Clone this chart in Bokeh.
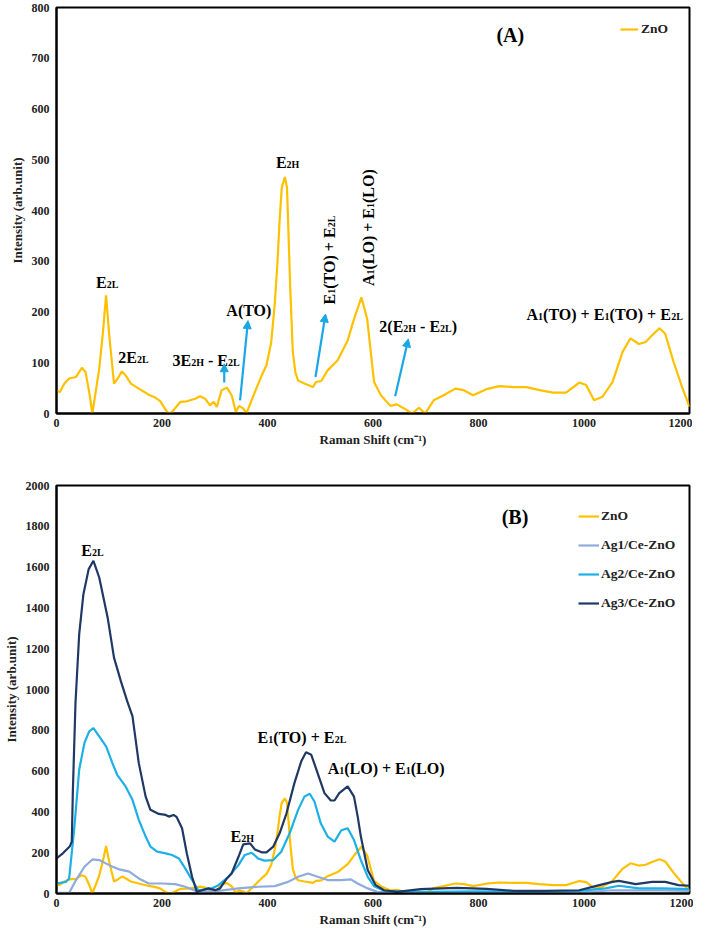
import numpy as np
from bokeh.plotting import figure
from bokeh.models import Range1d, FixedTicker, Legend, LegendItem, Arrow, NormalHead
from bokeh.layouts import column
from bokeh.embed import file_html
from bokeh.resources import INLINE
from bokeh.core.properties import value

# ---------------- data ----------------
shift_zno = [0, 6, 15, 24, 37, 48, 55, 62, 68, 81, 88, 94, 100, 109, 116, 124, 131, 141, 156, 175,
             188, 197, 207, 213, 219, 235, 247, 263, 272, 282, 291, 298, 304, 313, 323, 332, 340, 346, 354, 360,
             376, 389, 398, 407, 414, 419, 423, 427, 433, 437, 439, 443, 448, 453, 458, 470, 486, 492, 502, 514,
             533, 552, 564, 578, 589, 602, 615, 633, 645, 659, 674, 687, 699, 715, 734, 756, 772, 790, 815, 840,
             866, 891, 916, 941, 966, 991, 1004, 1019, 1035, 1054, 1073, 1088, 1104, 1117, 1129, 1143, 1154, 1170, 1186, 1200]
int_zno = [46, 42, 59, 69, 72, 90, 82, 42, 0, 88, 160, 233, 154, 59, 69, 83, 75, 59, 49, 37,
           31, 24, 7, 0, 3, 23, 24, 29, 34, 29, 16, 23, 13, 46, 51, 36, 3, 15, 10, 0,
           42, 75, 95, 140, 219, 300, 381, 445, 466, 445, 381, 250, 121, 80, 65, 59, 52, 62, 64, 85,
           105, 144, 186, 229, 186, 62, 36, 15, 18, 10, 0, 11, 0, 26, 36, 49, 46, 36, 48, 54,
           52, 52, 46, 41, 41, 61, 56, 26, 33, 62, 121, 148, 137, 141, 154, 168, 157, 101, 52, 13]

shift_ag1 = [0, 24, 37, 53, 68, 81, 100, 119, 138, 156, 175, 200, 225, 244, 269, 307, 345, 382, 414, 439,
             458, 477, 495, 514, 539, 558, 571, 590, 608, 700, 800, 900, 1000, 1054, 1100, 1150, 1200]
int_ag1 = [3, 3, 66, 131, 167, 164, 139, 118, 107, 74, 49, 49, 46, 33, 8, 13, 25, 33, 36, 57,
           82, 98, 82, 66, 66, 69, 49, 25, 8, 5, 4, 5, 6, 16, 15, 15, 13]

shift_ag2 = [0, 18, 24, 34, 43, 53, 62, 70, 81, 94, 106, 115, 131, 144, 156, 169, 178, 191, 207, 219,
             232, 244, 257, 269, 294, 307, 326, 345, 357, 370, 382, 394, 411, 426, 442, 458, 470, 480, 489, 501,
             514, 527, 540, 552, 564, 577, 590, 602, 621, 700, 800, 900, 991, 1041, 1066, 1104, 1148, 1200]
int_ag2 = [49, 57, 74, 328, 607, 738, 795, 811, 770, 721, 639, 582, 525, 459, 361, 279, 230, 205, 197, 189,
           172, 123, 66, 16, 25, 41, 82, 139, 189, 200, 172, 161, 164, 205, 295, 410, 475, 489, 451, 344,
           279, 254, 310, 320, 262, 164, 82, 36, 13, 8, 10, 8, 13, 25, 38, 25, 25, 21]

shift_ag3 = [0, 12, 25, 29, 31, 36, 43, 51, 61, 70, 81, 97, 109, 122, 134, 144, 156, 169, 178, 194,
             207, 213, 222, 228, 238, 247, 257, 266, 276, 288, 301, 310, 323, 332, 345, 354, 367, 376, 389, 398,
             411, 423, 436, 451, 464, 473, 483, 495, 508, 520, 527, 536, 552, 564, 571, 577, 590, 605, 621, 646,
             690, 759, 815, 866, 928, 991, 1029, 1054, 1066, 1098, 1129, 1154, 1179, 1200]
int_ag3 = [172, 197, 230, 254, 500, 934, 1270, 1467, 1590, 1631, 1549, 1352, 1156, 1041, 943, 869, 639, 475, 410, 390,
           385, 377, 385, 374, 320, 197, 82, 8, 16, 25, 16, 25, 74, 98, 180, 241, 246, 216, 202, 202,
           230, 295, 393, 541, 648, 692, 680, 590, 492, 456, 456, 492, 525, 475, 377, 279, 115, 41, 16, 8,
           21, 28, 23, 13, 13, 16, 41, 57, 62, 46, 57, 57, 41, 38]

series_names = ["ZnO", "Ag1/Ce-ZnO", "Ag2/Ce-ZnO", "Ag3/Ce-ZnO"]
x_ticks = [0, 200, 400, 600, 800, 1000, 1200]
y_ticks_a = [0, 100, 200, 300, 400, 500, 600, 700, 800]
y_ticks_b = [0, 200, 400, 600, 800, 1000, 1200, 1400, 1600, 1800, 2000]

# ---------------- style ----------------
FONT = "Liberation Serif"
C_ZNO, C_AG1, C_AG2, C_AG3 = "#FFC000", "#8FAADC", "#1CB0E6", "#1F3864"
C_ARROW = "#1AA7E6"
MAIN, SUB = 16, 10
FW = 633          # frame width (px)
FH_A, FH_B = 406, 408

# Times/Liberation Serif Bold advance widths (per 1000 em)
W = {' ': 250, '(': 333, ')': 333, '+': 570, '-': 333, 'A': 722, 'B': 667, 'E': 667,
     'H': 778, 'L': 667, 'O': 778, 'T': 667}
for d in "0123456789":
    W[d] = 500


def tw(s, size):
    return sum(W.get(c, 500) for c in s) * size / 1000.0


def rich(p, x, y, parts, ux, uy, vertical=False, main=MAIN):
    off = 0.0
    for txt, is_sub in parts:
        size = SUB if is_sub else main
        lead = len(txt) - len(txt.lstrip(' '))
        trail = len(txt) - len(txt.rstrip(' '))
        core = txt.strip(' ')
        off += tw(' ' * lead, size)
        if vertical:
            xx = x + (2 * ux if is_sub else 0)
            yy = y + off * uy
            ang = np.pi / 2
        else:
            xx = x + off * ux
            yy = y - (2 * uy if is_sub else 0)
            ang = 0
        p.text(x=[xx], y=[yy], text=[core], angle=ang, text_font=value(FONT),
               text_font_style="bold", text_font_size=f"{size}px", text_color="black",
               text_align="left", text_baseline="alphabetic")
        off += tw(core, size) + tw(' ' * trail, size)


def make_fig(frame_h, ymax, yticks, top, bottom):
    p = figure(frame_width=FW, frame_height=frame_h, output_backend="svg", toolbar_location=None,
               x_range=Range1d(0, 1200), y_range=Range1d(0, ymax),
               min_border_left=55, min_border_right=4, min_border_top=top, min_border_bottom=bottom)
    p.border_fill_color = "white"
    p.xgrid.visible = False
    p.ygrid.visible = False
    p.outline_line_color = "black"
    p.outline_line_width = 2
    p.outline_line_alpha = 1
    p.xaxis.ticker = FixedTicker(ticks=x_ticks)
    p.yaxis.ticker = FixedTicker(ticks=yticks)
    for ax in (p.xaxis[0], p.yaxis[0]):
        ax.axis_line_color = "black"
        ax.axis_line_width = 2
        ax.major_tick_out = 0
        ax.major_tick_in = 0
        ax.minor_tick_out = 0
        ax.minor_tick_in = 0
        ax.major_label_text_font = FONT
        ax.major_label_text_font_style = "bold"
        ax.major_label_text_font_size = "12px"
        ax.major_label_text_color = "#222222"
        ax.axis_label_text_font = FONT
        ax.axis_label_text_font_style = "bold"
        ax.axis_label_text_font_size = "13px"
        ax.axis_label_text_color = "#222222"
    p.xaxis.axis_label = "Raman Shift (cm\u207b\u00b9)"
    p.yaxis.axis_label = "Intensity (arb.unit)"
    p.xaxis.major_label_standoff = 5
    p.xaxis.axis_label_standoff = 2
    p.yaxis.major_label_standoff = 7
    p.yaxis.axis_label_standoff = 4
    return p


def style_legend(leg, gw, standoff, spacing):
    leg.padding = 0
    leg.margin = 0
    leg.spacing = spacing
    leg.glyph_width = gw
    leg.glyph_height = 20
    leg.label_height = 20
    leg.label_standoff = standoff
    leg.label_text_font = FONT
    leg.label_text_font_style = "bold"
    leg.label_text_font_size = "13.5px"
    leg.label_text_color = "#222222"
    leg.border_line_color = None
    leg.background_fill_alpha = 0


# ---------------- panel A ----------------
pA = make_fig(FH_A, 800, y_ticks_a, 7, 40)
uxA, uyA = 1200 / FW, 800 / FH_A
rA = pA.line(shift_zno, int_zno, line_color=C_ZNO, line_width=2.2)
legA = Legend(items=[LegendItem(label=series_names[0], renderers=[rA])], location=(564, 374))
style_legend(legA, 18, 3, 0)
pA.add_layout(legA)

labels_a = [
    ([("E", 0), ("2L", 1)], 75, 258, False),
    ([("2E", 0), ("2L", 1)], 117, 111, False),
    ([("3E", 0), ("2H", 1), (" - E", 0), ("2L", 1)], 220, 104, False),
    ([("A(TO)", 0)], 322, 203, False),
    ([("E", 0), ("2H", 1)], 416, 494, False),
    ([("E", 0), ("1", 1), ("(TO) + E", 0), ("2L", 1)], 518, 215, True),
    ([("A", 0), ("1", 1), ("(LO) + E", 0), ("1", 1), ("(LO)", 0)], 591, 251, True),
    ([("2(E", 0), ("2H", 1), (" - E", 0), ("2L", 1), (")", 0)], 612, 172, False),
    ([("A", 0), ("1", 1), ("(TO) + E", 0), ("1", 1), ("(TO) + E", 0), ("2L", 1)], 891, 196, False),
]
for parts, x, y, vert in labels_a:
    rich(pA, x, y, parts, uxA, uyA, vertical=vert)
rich(pA, 834, 746, [("(A)", 0)], uxA, uyA, main=20)

arrows_a = [((318, 61), (318, 98)), ((348, 26), (363, 183)), ((491, 72), (510, 196)), ((642, 34), (667, 147))]
for (x0, y0), (x1, y1) in arrows_a:
    pA.add_layout(Arrow(end=NormalHead(size=8, fill_color=C_ARROW, line_color=C_ARROW),
                        x_start=x0, y_start=y0, x_end=x1, y_end=y1,
                        line_color=C_ARROW, line_width=2.2))

# ---------------- panel B ----------------
pB = make_fig(FH_B, 2000, y_ticks_b, 32, 36)
uxB, uyB = 1200 / FW, 2000 / FH_B
r0 = pB.line(shift_zno, int_zno, line_color=C_ZNO, line_width=2.2)
r1 = pB.line(shift_ag1, int_ag1, line_color=C_AG1, line_width=2.2)
r2 = pB.line(shift_ag2, int_ag2, line_color=C_AG2, line_width=2.2)
r3 = pB.line(shift_ag3, int_ag3, line_color=C_AG3, line_width=2.2)
legB = Legend(items=[LegendItem(label=n, renderers=[r]) for n, r in zip(series_names, [r0, r1, r2, r3])],
              location=(522, 280))
style_legend(legB, 21, 2, 9)
pB.add_layout(legB)

labels_b = [
    ([("E", 0), ("2L", 1)], 47, 1680),
    ([("E", 0), ("2H", 1)], 330, 281),
    ([("E", 0), ("1", 1), ("(TO) + E", 0), ("2L", 1)], 381, 765),
    ([("A", 0), ("1", 1), ("(LO) + E", 0), ("1", 1), ("(LO)", 0)], 514, 615),
]
for parts, x, y in labels_b:
    rich(pB, x, y, parts, uxB, uyB)
rich(pB, 844, 1845, [("(B)", 0)], uxB, uyB, main=20)

layout = column(pA, pB)
open("out.html", "w").write(file_html(layout, INLINE))
